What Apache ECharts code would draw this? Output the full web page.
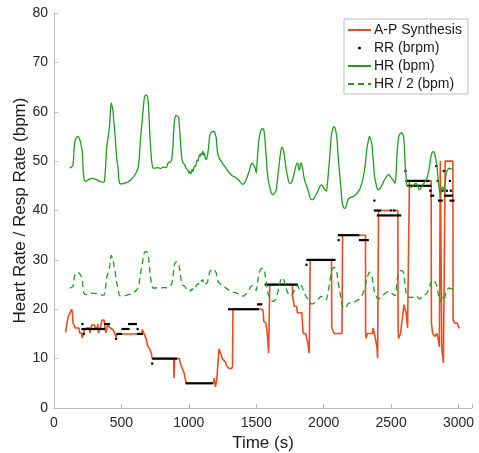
<!DOCTYPE html>
<html>
<head>
<meta charset="utf-8">
<script src="https://cdn.jsdelivr.net/npm/echarts@6/dist/echarts.min.js"></script>
<style>
html,body{margin:0;padding:0;background:#fff;}
#chart{width:479px;height:453px;}
</style>
</head>
<body>
<div id="chart"></div>
<script>
// ---- data ----
const xTicks = [0, 500, 1000, 1500, 2000, 2500, 3000];
const yTicks = [0, 10, 20, 30, 40, 50, 60, 70, 80];

// A-P Synthesis: [time (s), rate]
const apSynthesis = [
  [86,15.3],[95,17],[105,18.5],[115,19],[124,19.5],[130,20],[136,19.5],[141,17.2],[152,17.2],[158,16.2],[185,16.2],[190,15.2],[205,15.2],[208,14.2],[220,14.2],[226,15.8],[240,15.8],[246,16.2],[262,16.2],[266,15.2],[276,15.2],[280,16.8],[302,16.8],[305,16.2],[320,16.2],[325,17],[330,15.2],[340,15.2],[346,16.5],[356,17.8],[372,17.8],[378,16.2],[385,15.2],[392,15.2],[398,16.8],[412,16.8],[418,16.2],[430,15.8],[440,15.8],[448,15.2],[458,15.2],[463,14.3],[468,15],[650,15],[655,15.9],[662,15.9],[668,15],[678,15],[684,14],[692,12.8],[705,12.5],[712,11.8],[722,11],[728,10],[888,10],[890,6.1],[893,6.1],[895,10],[930,10],[936,9.2],[946,9.2],[950,8.1],[960,8.1],[965,7.1],[975,7.1],[980,5],[1184,5],[1188,6.1],[1193,6.1],[1197,4.3],[1204,4.3],[1207,5.6],[1212,5.6],[1218,9.7],[1224,12],[1230,11.8],[1238,11],[1245,11],[1250,9.9],[1262,9.6],[1270,9.4],[1280,8.5],[1290,8.3],[1300,8],[1318,8],[1324,8.5],[1327,20],[1548,20],[1552,19.3],[1556,17.5],[1572,17.2],[1578,16.8],[1584,14.5],[1590,14.5],[1592,11.1],[1596,11.1],[1600,25],[1768,25],[1770,22.6],[1778,22.6],[1782,20.6],[1800,20.6],[1805,19.3],[1838,19.3],[1842,19],[1848,15.1],[1866,15.1],[1870,14.8],[1880,14.8],[1883,13.1],[1890,13.1],[1893,11.1],[1896,11.1],[1900,30],[2058,30],[2060,16.2],[2074,16.2],[2078,15.1],[2136,15.1],[2140,35],[2310,35],[2311,15.1],[2314,14.1],[2320,14.1],[2324,15.1],[2362,15.1],[2366,16.2],[2372,16.2],[2376,15.1],[2385,15.1],[2390,13.1],[2396,12],[2400,10.1],[2404,10.1],[2407,40],[2550,40],[2552,15.8],[2556,14.1],[2566,14.1],[2570,15.1],[2580,15.1],[2588,19.2],[2596,20.9],[2606,20.9],[2612,19.2],[2618,19.2],[2622,16.2],[2632,16.2],[2636,46],[2797,46],[2799,17.2],[2804,17.2],[2808,15.1],[2822,15.1],[2826,14.5],[2836,14.5],[2840,15.1],[2848,14.1],[2855,14.1],[2858,12.4],[2863,12.1],[2865,50],[2874,50],[2876,12.1],[2880,11],[2884,10.4],[2888,9.1],[2898,9.1],[2901,50],[2958,50],[2960,17.8],[2968,17.8],[2972,17.2],[2990,17.2],[2994,16.8],[3000,16.8],[3006,16.1]
];

// RR (brpm): runs of readings [start time, end time, breaths per minute]
const rrRuns = [
  [203,206,17],[203,378,16],[213,217,15],[372,415,17],[452,460,14],[462,504,15],[500,561,16],[549,615,17],[612,616,16],[615,660,15],
  [720,724,9],[729,912,10],[976,1179,5],[1290,1520,20],[1505,1545,21],[1562,1809,25],[1864,1868,29],[1871,2088,30],
  [2103,2108,34],[2105,2266,35],[2261,2335,34],[2368,2372,42],[2372,2427,40],[2490,2500,40],[2515,2527,40],[2394,2575,39],
  [2598,2602,48],[2607,2785,46],[2617,2798,45],[2783,2787,44],[2790,2820,43],[2893,2958,43],[2847,2884,42],[2933,2970,42],
  [2872,2880,44],[2905,2915,44],[2935,2945,44],[2838,2842,46],[2928,2932,46],[2827,2831,49],[2882,2886,48]
];

// HR (bpm): [time (s), heart rate]
const heartRate = [
  [116,48.6],[130,48.8],[141,49.3],[147,51.5],[153,53.6],[163,54.6],[178,55],[188,54.6],[195,54],[203,53],[210,52],[215,49],[220,46.9],[228,46],[235,45.9],[250,46.1],[264,46.4],[285,46.5],[300,46.4],[313,46.3],[330,46],[350,45.8],[363,45.7],[372,45.8],[378,47],[385,50],[392,53],[402,55],[412,57],[418,60],[425,61.8],[432,61],[438,60],[444,58],[450,56.3],[456,54],[462,51.6],[468,50],[474,48.9],[480,46.5],[488,45.5],[500,45.4],[520,45.5],[540,45.7],[560,46],[580,46.5],[600,47.2],[615,48],[625,48.8],[632,50.5],[640,54],[648,56.5],[655,58.4],[663,61],[672,63.1],[684,63.4],[697,62.4],[703,60],[709,56.4],[715,53.5],[721,51],[728,49.3],[734,48.6],[750,48.6],[770,48.7],[790,48.5],[810,48.8],[833,48.7],[845,49.6],[860,49.8],[870,50],[876,51],[882,53],[888,56],[895,58.4],[907,59.2],[916,59.1],[924,58.9],[930,57],[937,54.3],[943,52],[949,50.3],[958,49.6],[969,49.3],[980,48.5],[993,48.2],[1000,47.6],[1005,47.9],[1012,47.4],[1018,47.7],[1025,48.3],[1030,47.9],[1037,48.6],[1043,49],[1050,48.9],[1055,49.6],[1062,50.2],[1068,50.0],[1074,50.8],[1080,51.3],[1086,51.0],[1092,51.6],[1098,51.3],[1104,52],[1110,51.2],[1116,51.6],[1122,50.6],[1129,50.3],[1135,50.8],[1141,51.6],[1147,53],[1154,55],[1162,55.7],[1174,56],[1185,56],[1191,56],[1197,55.3],[1203,54.7],[1210,52.5],[1216,51.3],[1228,50.5],[1240,50],[1252,49.4],[1265,49],[1280,48.4],[1302,47.6],[1325,47],[1352,46.6],[1375,46],[1390,45.5],[1401,45.3],[1413,45.6],[1426,46.3],[1438,47.2],[1450,48.2],[1460,49.2],[1470,49.6],[1480,49.2],[1488,48.9],[1495,48.3],[1500,47.6],[1507,50],[1514,52.5],[1520,54.4],[1528,55.6],[1537,56.4],[1549,56.6],[1556,56.3],[1563,55],[1568,53],[1574,50.9],[1580,48.5],[1587,46.5],[1599,44.9],[1610,43.7],[1624,43.2],[1636,43.5],[1648,44.2],[1658,46.5],[1668,48.9],[1677,51],[1686,52.6],[1694,52.8],[1703,52],[1713,50.2],[1723,48.2],[1735,46.5],[1747,45.5],[1760,45.6],[1772,46.5],[1785,48],[1797,49.3],[1803,49.6],[1809,49.6],[1815,48.4],[1822,48.2],[1828,49.6],[1834,49.6],[1840,49],[1846,48.2],[1852,47],[1858,46.2],[1870,45.2],[1883,44.2],[1895,43],[1908,42.2],[1920,42.2],[1932,42.6],[1945,43.3],[1957,43.9],[1970,44.8],[1982,45.2],[1992,45],[1999,44.6],[2010,44.2],[2019,43.9],[2028,45.5],[2033,47],[2039,48.9],[2048,52],[2056,55],[2068,56.6],[2078,57],[2088,56.3],[2098,54.7],[2106,51.5],[2112,49.5],[2118,47.6],[2128,44.5],[2138,41.5],[2148,40.6],[2158,40.4],[2168,41],[2180,42.2],[2195,42.6],[2217,42.8],[2240,43.3],[2255,43.8],[2266,44.2],[2280,45.3],[2292,46.5],[2303,48.2],[2313,50.5],[2320,52.5],[2328,53.7],[2340,55],[2348,54.5],[2358,53.3],[2365,51],[2371,49],[2377,46.9],[2390,45.2],[2402,44.2],[2415,44.4],[2427,44.9],[2440,45.6],[2451,46.2],[2465,46.8],[2476,47.2],[2485,47.2],[2493,46.9],[2505,46.5],[2513,46.2],[2522,45.8],[2530,45.5],[2537,47.5],[2543,50.9],[2550,53.5],[2557,55],[2566,55.5],[2575,55.7],[2585,55.5],[2592,55],[2598,53],[2605,48.9],[2611,46.8],[2617,45.2],[2625,44.9],[2636,44.9],[2648,44.7],[2661,44.9],[2673,45.3],[2685,45.5],[2697,44.9],[2710,44.2],[2722,44.6],[2735,45.2],[2748,45.7],[2760,46.2],[2773,47.3],[2785,48.9],[2795,50.8],[2805,51.8],[2814,51.9],[2822,51.6],[2830,50.6],[2839,49.3],[2845,47.5],[2852,45.5],[2859,44],[2866,43.2],[2876,44.5],[2884,44.8],[2892,43.8],[2900,45.2],[2909,47.6],[2919,48.2],[2929,48.6],[2937,48.5],[2946,48.4],[2958,48.2]
];

// HR / 2 is, by definition, the HR series halved
const halfHeartRate = heartRate.map(p => [p[0], p[1] / 2]);

const RED = '#EE4A1E';
const GREEN = '#1E9E1E';
const FONT = '"Liberation Sans", Arial, Helvetica, sans-serif';

const chart = echarts.init(document.getElementById('chart'), null, {renderer: 'canvas'});
chart.setOption({
  animation: false,
  backgroundColor: '#fff',
  grid: {left: 54, right: 7, top: 13, bottom: 45, containLabel: false, outerBoundsMode: 'none'},
  legend: {
    left: 344, top: 19,
    orient: 'vertical',
    backgroundColor: '#fff',
    borderColor: '#bdbdbd', borderWidth: 1, borderRadius: 0,
    padding: [4, 6, 3, 3],
    itemWidth: 23, itemHeight: 3, itemGap: 4,
    textStyle: {fontFamily: FONT, fontSize: 14, color: '#1a1a1a', padding: [0, 0, 0, -2], lineHeight: 14},
    data: [
      {name: 'A-P Synthesis'},
      {name: 'RR (brpm)', icon: 'circle', itemStyle: {color: '#000'}},
      {name: 'HR (bpm)'},
      {name: 'HR / 2 (bpm)'}
    ]
  },
  xAxis: {
    type: 'value', min: 0, max: 3100, interval: 500,
    name: 'Time (s)', nameLocation: 'middle', nameGap: 27, nameMoveOverlap: false,
    nameTextStyle: {fontFamily: FONT, fontSize: 17, color: '#1a1a1a'},
    axisLine: {show: true, lineStyle: {color: '#bbbbbb', width: 1}},
    axisTick: {show: true, inside: true, length: 4, lineStyle: {color: '#bbbbbb'}},
    axisLabel: {fontFamily: FONT, fontSize: 14, color: '#262626', margin: 8,
      formatter: v => (xTicks.indexOf(v) >= 0 ? String(v) : '')},
    splitLine: {show: false}
  },
  yAxis: {
    type: 'value', min: 0, max: 80, interval: 10,
    name: 'Heart Rate / Resp Rate (bpm)', nameLocation: 'middle', nameGap: 25, nameMoveOverlap: false,
    nameTextStyle: {fontFamily: FONT, fontSize: 17, color: '#1a1a1a'},
    axisLine: {show: true, lineStyle: {color: '#bbbbbb', width: 1}},
    axisTick: {show: true, inside: true, length: 4, lineStyle: {color: '#bbbbbb'}},
    axisLabel: {fontFamily: FONT, fontSize: 14, color: '#262626', margin: 6,
      formatter: v => (yTicks.indexOf(v) >= 0 ? String(v) : '')},
    splitLine: {show: false}
  },
  series: [
    {
      name: 'A-P Synthesis', type: 'line', data: apSynthesis,
      showSymbol: false, symbol: 'none',
      lineStyle: {color: RED, width: 1.6}, itemStyle: {color: RED}, z: 2
    },
    {
      name: 'RR (brpm)', type: 'custom', data: rrRuns,
      encode: {x: [0, 1], y: 2},
      itemStyle: {color: '#000'}, z: 3,
      renderItem: function (params, api) {
        const a = api.coord([api.value(0), api.value(2)]);
        const b = api.coord([api.value(1), api.value(2)]);
        const w = Math.max(2.2, b[0] - a[0]);
        return {type: 'rect', shape: {x: a[0], y: a[1] - 1.1, width: w, height: 2.2}, style: {fill: '#000'}};
      }
    },
    {
      name: 'HR (bpm)', type: 'line', data: heartRate,
      showSymbol: false, symbol: 'none', smooth: 0.3,
      lineStyle: {color: GREEN, width: 1.3}, itemStyle: {color: GREEN}, z: 4
    },
    {
      name: 'HR / 2 (bpm)', type: 'line', data: halfHeartRate,
      showSymbol: false, symbol: 'none', smooth: 0.3,
      lineStyle: {color: GREEN, width: 1.3, type: [6, 4]}, itemStyle: {color: GREEN}, z: 4
    }
  ]
});
</script>
</body>
</html>
